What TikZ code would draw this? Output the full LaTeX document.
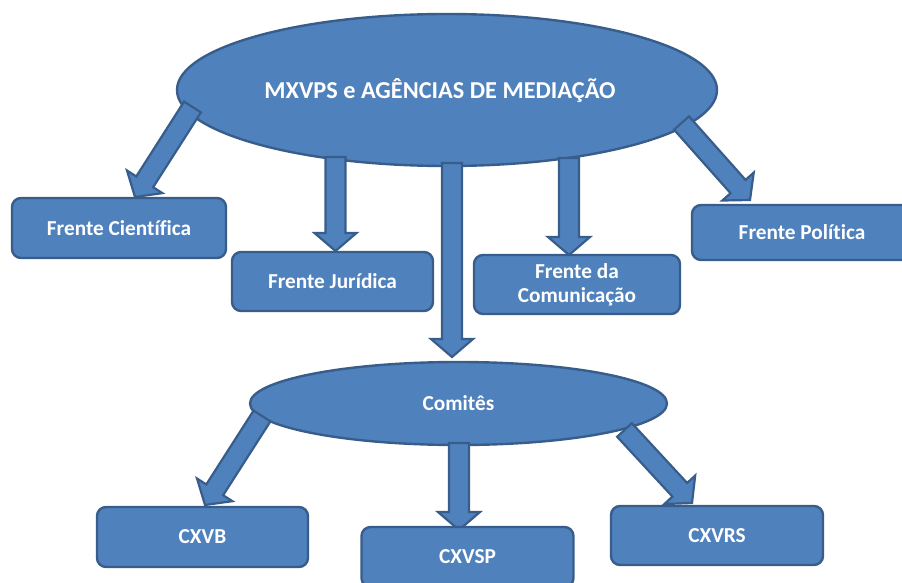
\documentclass[tikz,border=0pt]{standalone}
\usepackage{fontspec}
\setmainfont{Carlito}[Ligatures=NoCommon]
\usetikzlibrary{shapes.geometric,calc}
\definecolor{bfill}{HTML}{4F81BD}
\definecolor{bline}{HTML}{385D8A}
\tikzset{
  shapebase/.style={fill=bfill, draw=bline, line width=2.4pt, text=white, font=\bfseries\fontsize{21.3}{24}\selectfont, align=center, inner sep=0pt},
  ovalbox/.style={shapebase, ellipse},
  frontbox/.style={shapebase, rectangle, rounded corners=9pt},
  labeltext/.style={text=white, font=\bfseries\fontsize{24.3}{27}\selectfont, inner sep=0pt},
  barrowstyle/.style={fill=bfill, draw=bline, line width=2.2pt, line join=miter}
}
\newcommand{\blockarr}[2]{%
  \coordinate (hb) at ($(#2)!18pt!(#1)$);
  \draw[barrowstyle] ($(#1)!10pt!90:(#2)$) -- ($(hb)!10pt!90:(#2)$) -- ($(hb)!21pt!90:(#2)$) -- (#2) -- ($(hb)!21pt!-90:(#2)$) -- ($(hb)!10pt!-90:(#2)$) -- ($(#1)!10pt!-90:(#2)$) -- cycle;
}
\begin{document}
\begin{tikzpicture}[x=1pt,y=-1pt]
\useasboundingbox (0,0) rectangle (902,583);
% ellipses
\node[ovalbox, minimum width=540pt, minimum height=152pt] (mx) at (447,90) {};
\node[labeltext] (mxt) at (440,91) {MXVPS e AGÊNCIAS DE MEDIAÇÃO};
\node[ovalbox, minimum width=417pt, minimum height=83pt] (com) at (458.5,403.5) {Comitês};
% arrow anchor coordinates
\coordinate (s1) at (192.5,107); \coordinate (t1) at (135,197);
\coordinate (s2) at (335.5,157); \coordinate (t2) at (335.5,251);
\coordinate (s3) at (452,163);   \coordinate (t3) at (452,357);
\coordinate (s4) at (569,158);   \coordinate (t4) at (569,255);
\coordinate (s5) at (681.5,123); \coordinate (t5) at (750,200);
\coordinate (s6) at (262,416);   \coordinate (t6) at (205,505);
\coordinate (s7) at (459,443);   \coordinate (t7) at (459,530);
\coordinate (s8) at (624.5,430); \coordinate (t8) at (692,503);
\blockarr{s1}{t1}
\blockarr{s2}{t2}
\blockarr{s3}{t3}
\blockarr{s4}{t4}
\blockarr{s5}{t5}
\blockarr{s6}{t6}
\blockarr{s7}{t7}
\blockarr{s8}{t8}
% boxes
\node[frontbox, minimum width=214pt, minimum height=60pt] (fc) at (119,228) {Frente Científica};
\node[frontbox, minimum width=201pt, minimum height=59pt] (fj) at (332.5,281.5) {Frente Jurídica};
\node[frontbox, minimum width=206pt, minimum height=59pt] (fcom) at (577,284.5) {Frente da\\Comunicação};
\node[frontbox, minimum width=220pt, minimum height=55pt] (fp) at (802,232.5) {Frente Política};
\node[frontbox, minimum width=211pt, minimum height=60pt] (cxvb) at (202.5,537) {CXVB};
\node[frontbox, minimum width=212pt, minimum height=60pt] (cxvsp) at (467.5,557) {CXVSP};
\node[frontbox, minimum width=212pt, minimum height=59pt] (cxvrs) at (717,535.5) {CXVRS};
\end{tikzpicture}
\end{document}
